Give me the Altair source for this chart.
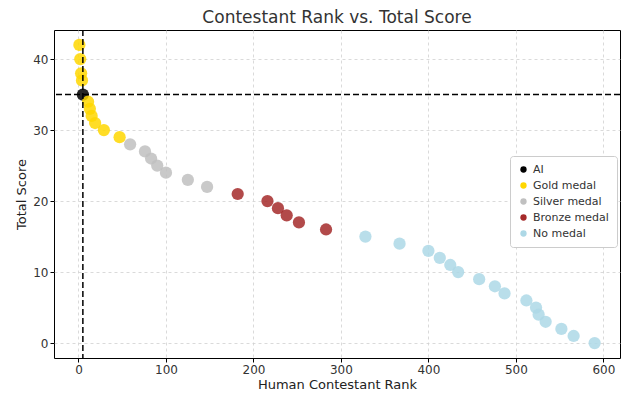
import altair as alt
import pandas as pd

categories = ["AI", "Gold medal", "Silver medal", "Bronze medal", "No medal"]
colors = ["#000000", "#FFD700", "#C0C0C0", "#A52A2A", "#ADD8E6"]

ai_rank = [5]
ai_score = [35]
gold_rank = [1, 2, 3, 4, 11, 13, 15, 19, 29, 47]
gold_score = [42, 40, 38, 37, 34, 33, 32, 31, 30, 29]
silver_rank = [59, 76, 83, 90, 100, 125, 147]
silver_score = [28, 27, 26, 25, 24, 23, 22]
bronze_rank = [182, 216, 228, 238, 252, 283]
bronze_score = [21, 20, 19, 18, 17, 16]
none_rank = [328, 367, 400, 413, 425, 434, 458, 476, 487, 512, 523, 526, 534, 552, 566, 590]
none_score = [15, 14, 13, 12, 11, 10, 9, 8, 7, 6, 5, 4, 3, 2, 1, 0]

rows = []
for cat, rs, ss in [
    ("Gold medal", gold_rank, gold_score),
    ("Silver medal", silver_rank, silver_score),
    ("Bronze medal", bronze_rank, bronze_score),
    ("No medal", none_rank, none_score),
    ("AI", ai_rank, ai_score),
]:
    for r, s in zip(rs, ss):
        rows.append({"rank": r, "score": s, "group": cat})
df = pd.DataFrame(rows)

font = "DejaVu Sans"

points = alt.Chart(df).mark_circle(size=150, opacity=0.85).encode(
    x=alt.X("rank:Q", title="Human Contestant Rank",
            scale=alt.Scale(domain=[-28, 619], nice=False, zero=False),
            axis=alt.Axis(values=[0, 100, 200, 300, 400, 500, 600], grid=True,
                          gridDash=[3, 3], gridColor="#d0d0d0", gridWidth=0.8,
                          domain=False, tickColor="#000", tickSize=4,
                          labelFontSize=12, titleFontSize=13, labelColor="#333",
                          titleColor="#222", labelFont=font, titleFont=font,
                          titleFontWeight="normal", labelPadding=2, titlePadding=3)),
    y=alt.Y("score:Q", title="Total Score",
            scale=alt.Scale(domain=[-2.1, 44.1], nice=False, zero=False),
            axis=alt.Axis(values=[0, 10, 20, 30, 40], grid=True,
                          gridDash=[3, 3], gridColor="#d0d0d0", gridWidth=0.8,
                          domain=False, tickColor="#000", tickSize=4,
                          labelFontSize=12, titleFontSize=13, labelColor="#333",
                          titleColor="#222", labelFont=font, titleFont=font,
                          titleFontWeight="normal", labelPadding=2, titlePadding=4)),
    color=alt.Color("group:N", scale=alt.Scale(domain=categories, range=colors),
                    legend=alt.Legend(title=None, orient="none", legendX=456, legendY=126,
                                      fillColor="white", strokeColor="#cccccc",
                                      padding=8, cornerRadius=3, symbolSize=40,
                                      symbolType="circle", symbolOpacity=1,
                                      labelFontSize=11, labelFont=font, labelColor="#333",
                                      rowPadding=4, symbolStrokeWidth=0)),
    order=alt.Order("group:N"),
)

hline = alt.Chart(pd.DataFrame({"y": ai_score})).mark_rule(
    color="black", strokeDash=[6, 3], strokeWidth=1.5).encode(y="y:Q")
vline = alt.Chart(pd.DataFrame({"x": ai_rank})).mark_rule(
    color="black", strokeDash=[6, 3], strokeWidth=1.5).encode(x="x:Q")

chart = alt.layer(points, hline, vline).properties(
    width=566, height=328,
    title=alt.Title("Contestant Rank vs. Total Score", fontSize=17, font=font,
                    fontWeight="normal", color="#333", offset=2),
    autosize=alt.AutoSizeParams(type="none"),
    padding={"left": 46, "top": 22, "right": 1, "bottom": 36},
).configure_view(stroke="black", strokeWidth=1)

chart.save("out.html", embed_options={"renderer": "svg", "actions": False})
